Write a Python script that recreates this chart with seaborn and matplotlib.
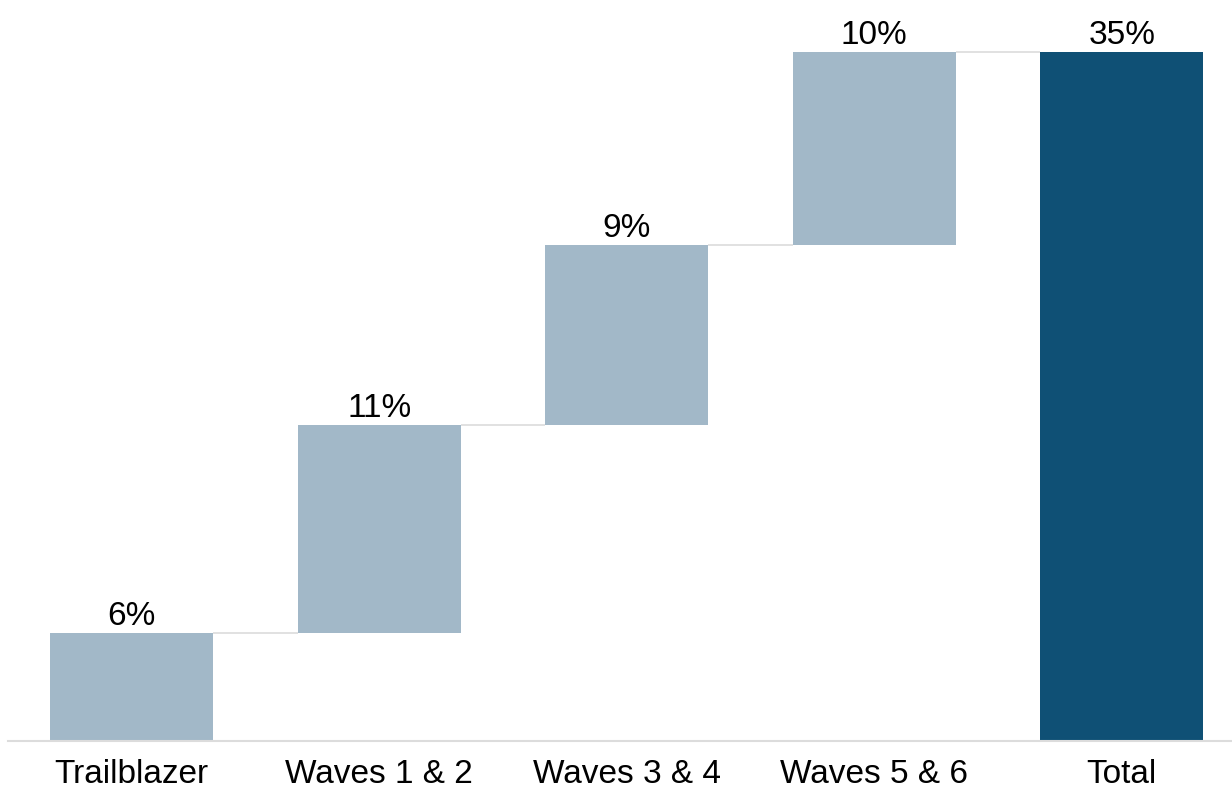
import numpy as np
import pandas as pd
import matplotlib
matplotlib.use("Agg")
import matplotlib.pyplot as plt
import seaborn as sns

# Contribution of each phase (percentage points) and the overall total
stages = ["Trailblazer", "Waves 1 & 2", "Waves 3 & 4", "Waves 5 & 6"]
increments = [5.5, 10.55, 9.15, 9.8]
total_label = "Total"

light_blue = "#A2B8C8"
dark_blue = "#0F5075"
rule_grey = "#DCDCDC"

sns.set_theme(style="white")
plt.rcParams["font.family"] = ["Liberation Sans", "DejaVu Sans"]

starts = np.concatenate([[0.0], np.cumsum(increments)[:-1]])
total = float(np.sum(increments))

df = pd.DataFrame({
    "stage": stages + [total_label],
    "height": increments + [total],
    "start": list(starts) + [0.0],
})

fig = plt.figure(figsize=(12.32, 7.89), dpi=100)
ax = fig.add_axes([8 / 1232, 48 / 789, 1224 / 1232, 731 / 789])

# Floating bars: each phase starts where the previous one ended
sns.barplot(data=df, x="stage", y="height", color=light_blue,
            bottom=df["start"].values, width=0.66, saturation=1,
            ax=ax, linewidth=0)
ax.patches[-1].set_facecolor(dark_blue)

# Connectors between consecutive bar tops
tops = df["start"].values + df["height"].values
half = 0.33
for i in range(len(df) - 1):
    ax.plot([i + half, i + 1 - half], [tops[i], tops[i]], color=rule_grey,
            lw=1.2, zorder=1, solid_capstyle="butt")

# Value labels above each bar
for i, (h, t) in enumerate(zip(df["height"], tops)):
    ax.text(i, t + 0.05, f"{h:.0f}%", ha="center", va="bottom",
            fontsize=24, color="black")

ax.set_xlim(-0.5, -0.5 + 1224 / 247.5)
ax.set_ylim(0, 731 / (689 / 35))
ax.set_xlabel("")
ax.set_ylabel("")
ax.set_yticks([])
ax.tick_params(axis="x", length=0, pad=13, labelsize=24, labelcolor="black")
for side in ["top", "right", "left"]:
    ax.spines[side].set_visible(False)
ax.spines["bottom"].set_color(rule_grey)
ax.spines["bottom"].set_linewidth(1.5)

fig.savefig("out.png", dpi=100)
